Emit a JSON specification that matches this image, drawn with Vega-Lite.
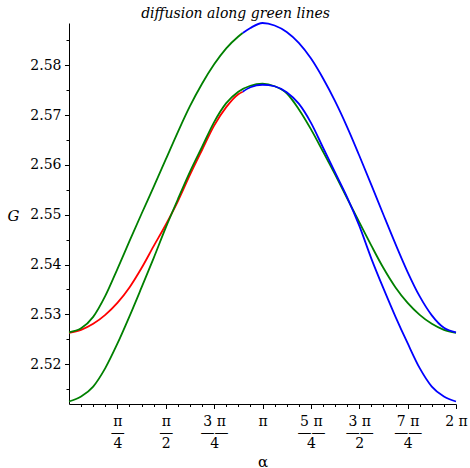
{
  "$schema": "https://vega.github.io/schema/vega-lite/v6.json",
  "width": 387,
  "height": 381,
  "autosize": "none",
  "padding": {"left": 69, "top": 23, "right": 14, "bottom": 64},
  "background": "white",
  "config": {
    "view": {"stroke": null},
    "axis": {"grid": false, "domainColor": "black", "tickColor": "black", "labelColor": "black", "titleColor": "black", "domainWidth": 1, "tickWidth": 1}
  },
  "title": {"text": "diffusion along green lines", "font": "DejaVu Serif", "fontStyle": "italic", "fontWeight": "normal", "fontSize": 14, "color": "black", "anchor": "middle", "dx": -27, "dy": 17, "offset": 4, "baseline": "alphabetic"},
  "data": {"values": [
    {"curve": "A1", "alpha": 0, "G": 2.5264},
    {"curve": "A1", "alpha": 0.19635, "G": 2.5272},
    {"curve": "A1", "alpha": 0.392699, "G": 2.5295},
    {"curve": "A1", "alpha": 0.589049, "G": 2.5337},
    {"curve": "A1", "alpha": 0.785398, "G": 2.5391},
    {"curve": "A1", "alpha": 0.981748, "G": 2.5447},
    {"curve": "A1", "alpha": 1.178097, "G": 2.5502},
    {"curve": "A1", "alpha": 1.374447, "G": 2.5556},
    {"curve": "A1", "alpha": 1.570796, "G": 2.5611},
    {"curve": "A1", "alpha": 1.767146, "G": 2.5666},
    {"curve": "A1", "alpha": 1.963495, "G": 2.5718},
    {"curve": "A1", "alpha": 2.159845, "G": 2.5763},
    {"curve": "A1", "alpha": 2.356194, "G": 2.5802},
    {"curve": "A1", "alpha": 2.552544, "G": 2.5834},
    {"curve": "A1", "alpha": 2.748894, "G": 2.5858},
    {"curve": "A1", "alpha": 2.82, "G": 2.5865},
    {"curve": "A2", "alpha": 2.82, "G": 2.5865},
    {"curve": "A2", "alpha": 2.945243, "G": 2.5875},
    {"curve": "A2", "alpha": 3.141593, "G": 2.5885},
    {"curve": "A2", "alpha": 3.337942, "G": 2.5880},
    {"curve": "A2", "alpha": 3.534292, "G": 2.5867},
    {"curve": "A2", "alpha": 3.730641, "G": 2.5845},
    {"curve": "A2", "alpha": 3.926991, "G": 2.5814},
    {"curve": "A2", "alpha": 4.12334, "G": 2.5774},
    {"curve": "A2", "alpha": 4.31969, "G": 2.5728},
    {"curve": "A2", "alpha": 4.516039, "G": 2.5676},
    {"curve": "A2", "alpha": 4.712389, "G": 2.5619},
    {"curve": "A2", "alpha": 4.908739, "G": 2.5560},
    {"curve": "A2", "alpha": 5.105088, "G": 2.5500},
    {"curve": "A2", "alpha": 5.301438, "G": 2.5441},
    {"curve": "A2", "alpha": 5.497787, "G": 2.5385},
    {"curve": "A2", "alpha": 5.694137, "G": 2.5336},
    {"curve": "A2", "alpha": 5.890486, "G": 2.5298},
    {"curve": "A2", "alpha": 6.086836, "G": 2.5273},
    {"curve": "A2", "alpha": 6.283185, "G": 2.5264},
    {"curve": "B1", "alpha": 0, "G": 2.5263},
    {"curve": "B1", "alpha": 0.19635, "G": 2.5269},
    {"curve": "B1", "alpha": 0.392699, "G": 2.5281},
    {"curve": "B1", "alpha": 0.589049, "G": 2.5299},
    {"curve": "B1", "alpha": 0.785398, "G": 2.5323},
    {"curve": "B1", "alpha": 0.981748, "G": 2.5354},
    {"curve": "B1", "alpha": 1.178097, "G": 2.5393},
    {"curve": "B1", "alpha": 1.374447, "G": 2.5437},
    {"curve": "B1", "alpha": 1.570796, "G": 2.5480},
    {"curve": "B1", "alpha": 1.767146, "G": 2.5527},
    {"curve": "B1", "alpha": 1.963495, "G": 2.5580},
    {"curve": "B1", "alpha": 2.159845, "G": 2.5630},
    {"curve": "B1", "alpha": 2.356194, "G": 2.5679},
    {"curve": "B1", "alpha": 2.552544, "G": 2.5716},
    {"curve": "B1", "alpha": 2.748894, "G": 2.5742},
    {"curve": "B1", "alpha": 2.82, "G": 2.5747},
    {"curve": "B2", "alpha": 2.82, "G": 2.5747},
    {"curve": "B2", "alpha": 2.945243, "G": 2.5756},
    {"curve": "B2", "alpha": 3.141593, "G": 2.5761},
    {"curve": "B2", "alpha": 3.337942, "G": 2.5758},
    {"curve": "B2", "alpha": 3.534292, "G": 2.5746},
    {"curve": "B2", "alpha": 3.730641, "G": 2.5723},
    {"curve": "B2", "alpha": 3.926991, "G": 2.5685},
    {"curve": "B2", "alpha": 4.12334, "G": 2.5635},
    {"curve": "B2", "alpha": 4.31969, "G": 2.5585},
    {"curve": "B2", "alpha": 4.516039, "G": 2.5535},
    {"curve": "B2", "alpha": 4.712389, "G": 2.5478},
    {"curve": "B2", "alpha": 4.908739, "G": 2.5412},
    {"curve": "B2", "alpha": 5.105088, "G": 2.5352},
    {"curve": "B2", "alpha": 5.301438, "G": 2.5295},
    {"curve": "B2", "alpha": 5.497787, "G": 2.5242},
    {"curve": "B2", "alpha": 5.694137, "G": 2.5192},
    {"curve": "B2", "alpha": 5.890486, "G": 2.5155},
    {"curve": "B2", "alpha": 6.086836, "G": 2.5135},
    {"curve": "B2", "alpha": 6.283185, "G": 2.5125},
    {"curve": "C", "alpha": 0, "G": 2.5125},
    {"curve": "C", "alpha": 0.19635, "G": 2.5135},
    {"curve": "C", "alpha": 0.392699, "G": 2.5155},
    {"curve": "C", "alpha": 0.589049, "G": 2.5192},
    {"curve": "C", "alpha": 0.785398, "G": 2.5241},
    {"curve": "C", "alpha": 0.981748, "G": 2.5296},
    {"curve": "C", "alpha": 1.178097, "G": 2.5354},
    {"curve": "C", "alpha": 1.374447, "G": 2.5413},
    {"curve": "C", "alpha": 1.570796, "G": 2.5474},
    {"curve": "C", "alpha": 1.767146, "G": 2.5531},
    {"curve": "C", "alpha": 1.963495, "G": 2.5586},
    {"curve": "C", "alpha": 2.159845, "G": 2.5636},
    {"curve": "C", "alpha": 2.356194, "G": 2.5686},
    {"curve": "C", "alpha": 2.552544, "G": 2.5724},
    {"curve": "C", "alpha": 2.748894, "G": 2.5747},
    {"curve": "C", "alpha": 2.945243, "G": 2.5759},
    {"curve": "C", "alpha": 3.141593, "G": 2.5763},
    {"curve": "C", "alpha": 3.337942, "G": 2.5758},
    {"curve": "C", "alpha": 3.534292, "G": 2.5744},
    {"curve": "C", "alpha": 3.730641, "G": 2.5712},
    {"curve": "C", "alpha": 3.926991, "G": 2.5672},
    {"curve": "C", "alpha": 4.12334, "G": 2.5627},
    {"curve": "C", "alpha": 4.31969, "G": 2.5581},
    {"curve": "C", "alpha": 4.516039, "G": 2.5533},
    {"curve": "C", "alpha": 4.712389, "G": 2.5485},
    {"curve": "C", "alpha": 4.908739, "G": 2.5438},
    {"curve": "C", "alpha": 5.105088, "G": 2.5393},
    {"curve": "C", "alpha": 5.301438, "G": 2.5354},
    {"curve": "C", "alpha": 5.497787, "G": 2.5323},
    {"curve": "C", "alpha": 5.694137, "G": 2.5299},
    {"curve": "C", "alpha": 5.890486, "G": 2.5281},
    {"curve": "C", "alpha": 6.086836, "G": 2.5269},
    {"curve": "C", "alpha": 6.283185, "G": 2.5263}
  ]},
  "encoding": {
    "x": {
      "field": "alpha", "type": "quantitative",
      "scale": {"domain": [0, 6.283185], "nice": false, "zero": false},
      "axis": {
        "title": "α", "titleFont": "DejaVu Serif", "titleFontSize": 15, "titleFontWeight": "normal",
        "titleX": 193.5, "titleY": 62, "titleAlign": "center", "titleBaseline": "alphabetic",
        "values": [0.19635, 0.392699, 0.589049, 0.785398, 0.981748, 1.178097, 1.374447, 1.570796, 1.767146, 1.963495, 2.159845, 2.356194, 2.552544, 2.748894, 2.945243, 3.141593, 3.337942, 3.534292, 3.730641, 3.926991, 4.12334, 4.31969, 4.516039, 4.712389, 4.908739, 5.105088, 5.301438, 5.497787, 5.694137, 5.890486, 6.086836, 6.283185],
        "labelExpr": "abs(datum.value*4/PI - round(datum.value*4/PI)) < 0.01 ? [[''],['π','—','4'],['π','—','2'],['3 π','——','4'],['π'],['5 π','——','4'],['3 π','——','2'],['7 π','——','4'],['2 π']][round(datum.value*4/PI)] : ''",
        "labelFont": "DejaVu Serif", "labelFontSize": 14, "labelLineHeight": 11, "labelBaseline": "top",
        "labelPadding": 6, "labelOverlap": false, "labelFlush": false, "labelBound": false,
        "tickSize": {"condition": {"test": "abs(datum.value*4/PI - round(datum.value*4/PI)) < 0.01", "value": 4.5}, "value": 2.5}
      }
    },
    "y": {
      "field": "G", "type": "quantitative",
      "scale": {"domain": [2.512, 2.5885], "nice": false, "zero": false},
      "axis": {
        "title": "G", "titleFont": "DejaVu Serif", "titleFontStyle": "italic", "titleFontSize": 15, "titleFontWeight": "normal",
        "titleAngle": 0, "titleX": -56, "titleY": 197.5, "titleAlign": "center", "titleBaseline": "alphabetic",
        "values": [2.515, 2.52, 2.525, 2.53, 2.535, 2.54, 2.545, 2.55, 2.555, 2.56, 2.565, 2.57, 2.575, 2.58, 2.585],
        "labelExpr": "abs(datum.value*100 - round(datum.value*100)) < 0.01 ? format(datum.value, '.2f') : ''",
        "labelFont": "DejaVu Serif", "labelFontSize": 14, "labelPadding": 3.5, "labelOverlap": false,
        "tickSize": {"condition": {"test": "abs(datum.value*100 - round(datum.value*100)) < 0.01", "value": 4.5}, "value": 3}
      }
    },
    "color": {
      "field": "curve", "type": "nominal",
      "scale": {"domain": ["A1", "A2", "B1", "B2", "C"], "range": ["#008000", "#0000ff", "#ff0000", "#0000ff", "#008000"]},
      "legend": null
    }
  },
  "layer": [
    {"transform": [{"filter": {"field": "curve", "oneOf": ["B1"]}}], "mark": {"type": "line", "interpolate": "monotone", "strokeWidth": 1.8}},
    {"transform": [{"filter": {"field": "curve", "oneOf": ["A1", "C"]}}], "mark": {"type": "line", "interpolate": "monotone", "strokeWidth": 1.8}},
    {"transform": [{"filter": {"field": "curve", "oneOf": ["A2", "B2"]}}], "mark": {"type": "line", "interpolate": "monotone", "strokeWidth": 1.8}}
  ]
}
